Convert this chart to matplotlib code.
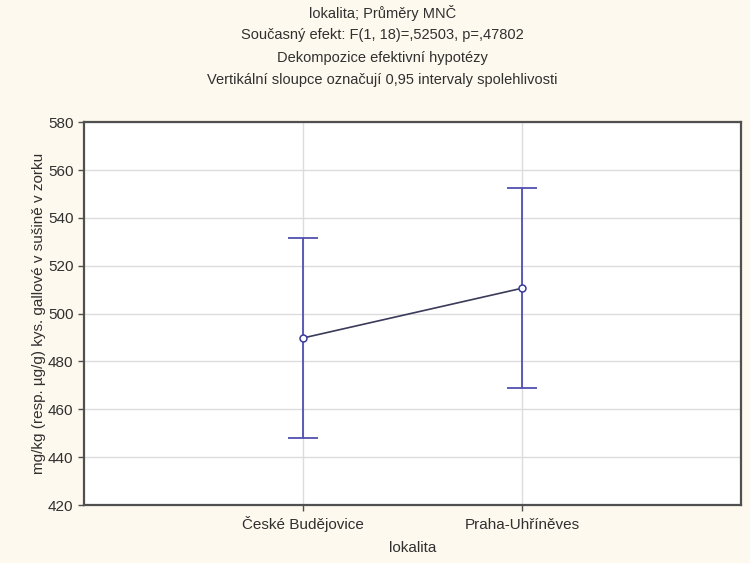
import matplotlib.pyplot as plt

plt.rcParams['font.family'] = ['Liberation Sans', 'DejaVu Sans']

lokality = ["České Budějovice", "Praha-Uhříněves"]
prumery = [489.8, 510.6]
ci_dolni = [448.0, 468.9]
ci_horni = [531.8, 552.4]

poz = [1, 2]
err = [[m - lo for m, lo in zip(prumery, ci_dolni)],
       [hi - m for m, hi in zip(prumery, ci_horni)]]

bg = "#fdf9ee"
fig = plt.figure(figsize=(7.5, 5.63), dpi=100, facecolor=bg)
ax = fig.add_axes([0.112, 0.103, 0.876, 0.680])
ax.set_facecolor("white")

ax.errorbar(poz, prumery, yerr=err, fmt="none", ecolor="#5050b0",
            elinewidth=1.3, capsize=11, capthick=1.3, zorder=3)
ax.plot(poz, prumery, color="#3a3a5a", lw=1.2, marker="o", ms=5,
        mfc="white", mec="#3a3aa0", mew=1.1, zorder=4)

ax.set_xlim(0, 3)
ax.set_ylim(420, 580)
ax.set_yticks(range(420, 581, 20))
ax.set_xticks(poz)
ax.set_xticklabels(lokality, va="baseline")
ax.grid(True, color="#dcdcdc", lw=1)
ax.set_axisbelow(True)
for s in ax.spines.values():
    s.set_color("#505050")
    s.set_linewidth(1.6)
ax.tick_params(axis="both", labelsize=11, colors="#505050", labelcolor="#303030",
               length=4, width=1)
ax.tick_params(axis="x", pad=13)

ax.set_xlabel("lokalita", fontsize=11, color="#303030")
ax.set_ylabel("mg/kg (resp. µg/g) kys. gallové v sušině v zorku", fontsize=11,
              color="#303030")
ax.xaxis.set_label_coords(0.5, -0.094)
ax.yaxis.set_label_coords(-0.058, 0.5)

titulek = ["lokalita; Průměry MNČ",
           "Současný efekt: F(1, 18)=,52503, p=,47802",
           "Dekompozice efektivní hypotézy",
           "Vertikální sloupce označují 0,95 intervaly spolehlivosti"]
for i, t in enumerate(titulek):
    fig.text(0.51, 1 - (13 + 22.3 * i) / 563, t, ha="center", va="center",
             fontsize=10.5, color="#303030")

fig.savefig("out.png", dpi=100, facecolor=bg)
